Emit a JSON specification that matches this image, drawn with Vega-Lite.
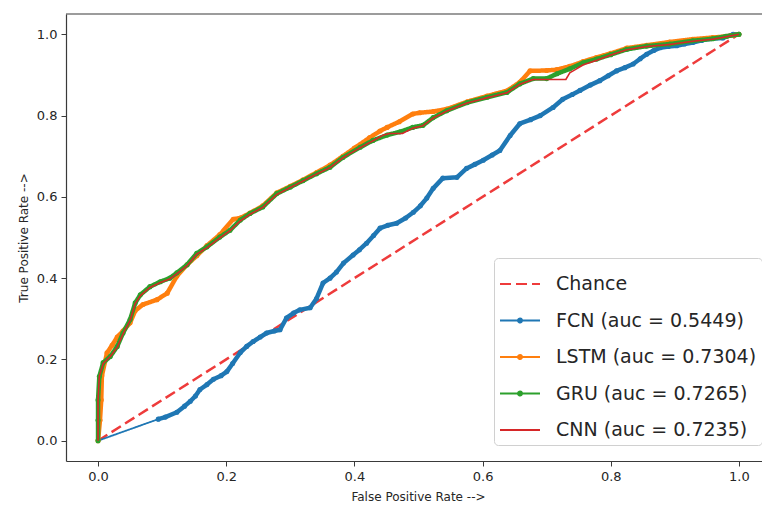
{
  "$schema": "https://vega.github.io/schema/vega-lite/v6.json",
  "width": 696,
  "height": 447,
  "autosize": {"type": "none"},
  "padding": {"left": 66, "top": 14, "right": 0, "bottom": 49},
  "background": "white",
  "config": {
    "view": {"stroke": null},
    "font": "DejaVu Sans",
    "axis": {
      "domainColor": "#3a3a3a", "domainWidth": 1.2,
      "tickColor": "#3a3a3a", "tickSize": 5, "tickWidth": 1,
      "labelFont": "DejaVu Sans", "labelFontSize": 13, "labelColor": "#262626",
      "labelPadding": 4, "labelFlush": false,
      "titleFont": "DejaVu Sans", "titleFontSize": 12, "titleFontWeight": "normal", "titleColor": "#262626",
      "grid": false
    },
    "legend": {
      "orient": "none", "legendX": 428, "legendY": 244,
      "labelFont": "DejaVu Sans", "labelFontSize": 19, "labelColor": "#262626", "labelLimit": 400,
      "symbolSize": 1600, "symbolStrokeWidth": 2, "labelOffset": 15,
      "padding": 5, "rowPadding": 5.5,
      "fillColor": "white", "strokeColor": "#d0d0d0", "cornerRadius": 4
    }
  },
  "layer": [
    {
      "data": {"values": [{"edge": "top"}]},
      "mark": {"type": "rule", "color": "#3a3a3a", "strokeWidth": 1.2},
      "encoding": {"y": {"datum": 1.05, "type": "quantitative", "scale": {"domain": [-0.05, 1.05], "nice": false, "zero": false}}}
    },
    {
      "data": {"values": [
        {"series": "Chance", "fpr": 0, "tpr": 0},
        {"series": "Chance", "fpr": 1, "tpr": 1},

        {"series": "FCN (auc = 0.5449)", "fpr": 0, "tpr": 0},
        {"series": "FCN (auc = 0.5449)", "fpr": 0.094, "tpr": 0.053},
        {"series": "FCN (auc = 0.5449)", "fpr": 0.105, "tpr": 0.058},
        {"series": "FCN (auc = 0.5449)", "fpr": 0.123, "tpr": 0.07},
        {"series": "FCN (auc = 0.5449)", "fpr": 0.135, "tpr": 0.085},
        {"series": "FCN (auc = 0.5449)", "fpr": 0.144, "tpr": 0.097},
        {"series": "FCN (auc = 0.5449)", "fpr": 0.152, "tpr": 0.11},
        {"series": "FCN (auc = 0.5449)", "fpr": 0.159, "tpr": 0.126},
        {"series": "FCN (auc = 0.5449)", "fpr": 0.17, "tpr": 0.138},
        {"series": "FCN (auc = 0.5449)", "fpr": 0.18, "tpr": 0.151},
        {"series": "FCN (auc = 0.5449)", "fpr": 0.192, "tpr": 0.16},
        {"series": "FCN (auc = 0.5449)", "fpr": 0.201, "tpr": 0.17},
        {"series": "FCN (auc = 0.5449)", "fpr": 0.21, "tpr": 0.19},
        {"series": "FCN (auc = 0.5449)", "fpr": 0.222, "tpr": 0.217},
        {"series": "FCN (auc = 0.5449)", "fpr": 0.232, "tpr": 0.232},
        {"series": "FCN (auc = 0.5449)", "fpr": 0.242, "tpr": 0.244},
        {"series": "FCN (auc = 0.5449)", "fpr": 0.253, "tpr": 0.255},
        {"series": "FCN (auc = 0.5449)", "fpr": 0.263, "tpr": 0.265},
        {"series": "FCN (auc = 0.5449)", "fpr": 0.275, "tpr": 0.27},
        {"series": "FCN (auc = 0.5449)", "fpr": 0.284, "tpr": 0.273},
        {"series": "FCN (auc = 0.5449)", "fpr": 0.294, "tpr": 0.302},
        {"series": "FCN (auc = 0.5449)", "fpr": 0.305, "tpr": 0.314},
        {"series": "FCN (auc = 0.5449)", "fpr": 0.315, "tpr": 0.322},
        {"series": "FCN (auc = 0.5449)", "fpr": 0.331, "tpr": 0.327},
        {"series": "FCN (auc = 0.5449)", "fpr": 0.341, "tpr": 0.35},
        {"series": "FCN (auc = 0.5449)", "fpr": 0.351, "tpr": 0.388},
        {"series": "FCN (auc = 0.5449)", "fpr": 0.362, "tpr": 0.4},
        {"series": "FCN (auc = 0.5449)", "fpr": 0.372, "tpr": 0.415},
        {"series": "FCN (auc = 0.5449)", "fpr": 0.383, "tpr": 0.437},
        {"series": "FCN (auc = 0.5449)", "fpr": 0.398, "tpr": 0.457},
        {"series": "FCN (auc = 0.5449)", "fpr": 0.408, "tpr": 0.47},
        {"series": "FCN (auc = 0.5449)", "fpr": 0.419, "tpr": 0.486},
        {"series": "FCN (auc = 0.5449)", "fpr": 0.43, "tpr": 0.505},
        {"series": "FCN (auc = 0.5449)", "fpr": 0.44, "tpr": 0.523},
        {"series": "FCN (auc = 0.5449)", "fpr": 0.452, "tpr": 0.53},
        {"series": "FCN (auc = 0.5449)", "fpr": 0.466, "tpr": 0.535},
        {"series": "FCN (auc = 0.5449)", "fpr": 0.48, "tpr": 0.548},
        {"series": "FCN (auc = 0.5449)", "fpr": 0.492, "tpr": 0.562},
        {"series": "FCN (auc = 0.5449)", "fpr": 0.503, "tpr": 0.578},
        {"series": "FCN (auc = 0.5449)", "fpr": 0.513, "tpr": 0.597},
        {"series": "FCN (auc = 0.5449)", "fpr": 0.523, "tpr": 0.621},
        {"series": "FCN (auc = 0.5449)", "fpr": 0.538, "tpr": 0.646},
        {"series": "FCN (auc = 0.5449)", "fpr": 0.56, "tpr": 0.648},
        {"series": "FCN (auc = 0.5449)", "fpr": 0.575, "tpr": 0.67},
        {"series": "FCN (auc = 0.5449)", "fpr": 0.588, "tpr": 0.68},
        {"series": "FCN (auc = 0.5449)", "fpr": 0.601, "tpr": 0.69},
        {"series": "FCN (auc = 0.5449)", "fpr": 0.615, "tpr": 0.703},
        {"series": "FCN (auc = 0.5449)", "fpr": 0.627, "tpr": 0.714},
        {"series": "FCN (auc = 0.5449)", "fpr": 0.643, "tpr": 0.751},
        {"series": "FCN (auc = 0.5449)", "fpr": 0.658, "tpr": 0.78},
        {"series": "FCN (auc = 0.5449)", "fpr": 0.675, "tpr": 0.79},
        {"series": "FCN (auc = 0.5449)", "fpr": 0.69, "tpr": 0.8},
        {"series": "FCN (auc = 0.5449)", "fpr": 0.71, "tpr": 0.82},
        {"series": "FCN (auc = 0.5449)", "fpr": 0.725, "tpr": 0.84},
        {"series": "FCN (auc = 0.5449)", "fpr": 0.74, "tpr": 0.852},
        {"series": "FCN (auc = 0.5449)", "fpr": 0.752, "tpr": 0.862},
        {"series": "FCN (auc = 0.5449)", "fpr": 0.768, "tpr": 0.875},
        {"series": "FCN (auc = 0.5449)", "fpr": 0.783, "tpr": 0.886},
        {"series": "FCN (auc = 0.5449)", "fpr": 0.796, "tpr": 0.898},
        {"series": "FCN (auc = 0.5449)", "fpr": 0.809, "tpr": 0.91},
        {"series": "FCN (auc = 0.5449)", "fpr": 0.822, "tpr": 0.918},
        {"series": "FCN (auc = 0.5449)", "fpr": 0.835, "tpr": 0.927},
        {"series": "FCN (auc = 0.5449)", "fpr": 0.846, "tpr": 0.94},
        {"series": "FCN (auc = 0.5449)", "fpr": 0.856, "tpr": 0.951},
        {"series": "FCN (auc = 0.5449)", "fpr": 0.867, "tpr": 0.96},
        {"series": "FCN (auc = 0.5449)", "fpr": 0.877, "tpr": 0.967},
        {"series": "FCN (auc = 0.5449)", "fpr": 0.89, "tpr": 0.97},
        {"series": "FCN (auc = 0.5449)", "fpr": 0.903, "tpr": 0.972},
        {"series": "FCN (auc = 0.5449)", "fpr": 0.915, "tpr": 0.976},
        {"series": "FCN (auc = 0.5449)", "fpr": 0.928, "tpr": 0.98},
        {"series": "FCN (auc = 0.5449)", "fpr": 0.942, "tpr": 0.985},
        {"series": "FCN (auc = 0.5449)", "fpr": 0.955, "tpr": 0.989},
        {"series": "FCN (auc = 0.5449)", "fpr": 0.975, "tpr": 0.991},
        {"series": "FCN (auc = 0.5449)", "fpr": 0.991, "tpr": 1.0},
        {"series": "FCN (auc = 0.5449)", "fpr": 1.0, "tpr": 1.0},

        {"series": "LSTM (auc = 0.7304)", "fpr": 0, "tpr": 0},
        {"series": "LSTM (auc = 0.7304)", "fpr": 0.003, "tpr": 0.05},
        {"series": "LSTM (auc = 0.7304)", "fpr": 0.005, "tpr": 0.1},
        {"series": "LSTM (auc = 0.7304)", "fpr": 0.006, "tpr": 0.16},
        {"series": "LSTM (auc = 0.7304)", "fpr": 0.014, "tpr": 0.216},
        {"series": "LSTM (auc = 0.7304)", "fpr": 0.022, "tpr": 0.235},
        {"series": "LSTM (auc = 0.7304)", "fpr": 0.03, "tpr": 0.255},
        {"series": "LSTM (auc = 0.7304)", "fpr": 0.039, "tpr": 0.27},
        {"series": "LSTM (auc = 0.7304)", "fpr": 0.05, "tpr": 0.29},
        {"series": "LSTM (auc = 0.7304)", "fpr": 0.058, "tpr": 0.32},
        {"series": "LSTM (auc = 0.7304)", "fpr": 0.07, "tpr": 0.335},
        {"series": "LSTM (auc = 0.7304)", "fpr": 0.092, "tpr": 0.347},
        {"series": "LSTM (auc = 0.7304)", "fpr": 0.108, "tpr": 0.363},
        {"series": "LSTM (auc = 0.7304)", "fpr": 0.123, "tpr": 0.405},
        {"series": "LSTM (auc = 0.7304)", "fpr": 0.139, "tpr": 0.433},
        {"series": "LSTM (auc = 0.7304)", "fpr": 0.154, "tpr": 0.455},
        {"series": "LSTM (auc = 0.7304)", "fpr": 0.17, "tpr": 0.48},
        {"series": "LSTM (auc = 0.7304)", "fpr": 0.19, "tpr": 0.507},
        {"series": "LSTM (auc = 0.7304)", "fpr": 0.211, "tpr": 0.545},
        {"series": "LSTM (auc = 0.7304)", "fpr": 0.222, "tpr": 0.548},
        {"series": "LSTM (auc = 0.7304)", "fpr": 0.237, "tpr": 0.56},
        {"series": "LSTM (auc = 0.7304)", "fpr": 0.257, "tpr": 0.578},
        {"series": "LSTM (auc = 0.7304)", "fpr": 0.279, "tpr": 0.61},
        {"series": "LSTM (auc = 0.7304)", "fpr": 0.3, "tpr": 0.626},
        {"series": "LSTM (auc = 0.7304)", "fpr": 0.32, "tpr": 0.642},
        {"series": "LSTM (auc = 0.7304)", "fpr": 0.341, "tpr": 0.66},
        {"series": "LSTM (auc = 0.7304)", "fpr": 0.362, "tpr": 0.678},
        {"series": "LSTM (auc = 0.7304)", "fpr": 0.382, "tpr": 0.7},
        {"series": "LSTM (auc = 0.7304)", "fpr": 0.4, "tpr": 0.72},
        {"series": "LSTM (auc = 0.7304)", "fpr": 0.424, "tpr": 0.746},
        {"series": "LSTM (auc = 0.7304)", "fpr": 0.44, "tpr": 0.762},
        {"series": "LSTM (auc = 0.7304)", "fpr": 0.451, "tpr": 0.771},
        {"series": "LSTM (auc = 0.7304)", "fpr": 0.47, "tpr": 0.785},
        {"series": "LSTM (auc = 0.7304)", "fpr": 0.491, "tpr": 0.804},
        {"series": "LSTM (auc = 0.7304)", "fpr": 0.502, "tpr": 0.807},
        {"series": "LSTM (auc = 0.7304)", "fpr": 0.523, "tpr": 0.81},
        {"series": "LSTM (auc = 0.7304)", "fpr": 0.544, "tpr": 0.816},
        {"series": "LSTM (auc = 0.7304)", "fpr": 0.576, "tpr": 0.834},
        {"series": "LSTM (auc = 0.7304)", "fpr": 0.607, "tpr": 0.848},
        {"series": "LSTM (auc = 0.7304)", "fpr": 0.638, "tpr": 0.861},
        {"series": "LSTM (auc = 0.7304)", "fpr": 0.658, "tpr": 0.882},
        {"series": "LSTM (auc = 0.7304)", "fpr": 0.674, "tpr": 0.91},
        {"series": "LSTM (auc = 0.7304)", "fpr": 0.7, "tpr": 0.911},
        {"series": "LSTM (auc = 0.7304)", "fpr": 0.716, "tpr": 0.913},
        {"series": "LSTM (auc = 0.7304)", "fpr": 0.736, "tpr": 0.921},
        {"series": "LSTM (auc = 0.7304)", "fpr": 0.757, "tpr": 0.933},
        {"series": "LSTM (auc = 0.7304)", "fpr": 0.778, "tpr": 0.943},
        {"series": "LSTM (auc = 0.7304)", "fpr": 0.8, "tpr": 0.953},
        {"series": "LSTM (auc = 0.7304)", "fpr": 0.825, "tpr": 0.966},
        {"series": "LSTM (auc = 0.7304)", "fpr": 0.856, "tpr": 0.973},
        {"series": "LSTM (auc = 0.7304)", "fpr": 0.892, "tpr": 0.981},
        {"series": "LSTM (auc = 0.7304)", "fpr": 0.928, "tpr": 0.988},
        {"series": "LSTM (auc = 0.7304)", "fpr": 0.959, "tpr": 0.992},
        {"series": "LSTM (auc = 0.7304)", "fpr": 0.98, "tpr": 0.995},
        {"series": "LSTM (auc = 0.7304)", "fpr": 1.0, "tpr": 1.0},

        {"series": "GRU (auc = 0.7265)", "fpr": 0, "tpr": 0},
        {"series": "GRU (auc = 0.7265)", "fpr": 0, "tpr": 0.05},
        {"series": "GRU (auc = 0.7265)", "fpr": 0, "tpr": 0.1},
        {"series": "GRU (auc = 0.7265)", "fpr": 0.002, "tpr": 0.158},
        {"series": "GRU (auc = 0.7265)", "fpr": 0.008, "tpr": 0.192},
        {"series": "GRU (auc = 0.7265)", "fpr": 0.019, "tpr": 0.207},
        {"series": "GRU (auc = 0.7265)", "fpr": 0.03, "tpr": 0.232},
        {"series": "GRU (auc = 0.7265)", "fpr": 0.039, "tpr": 0.265},
        {"series": "GRU (auc = 0.7265)", "fpr": 0.05, "tpr": 0.298},
        {"series": "GRU (auc = 0.7265)", "fpr": 0.058, "tpr": 0.339},
        {"series": "GRU (auc = 0.7265)", "fpr": 0.066, "tpr": 0.359},
        {"series": "GRU (auc = 0.7265)", "fpr": 0.081, "tpr": 0.379},
        {"series": "GRU (auc = 0.7265)", "fpr": 0.097, "tpr": 0.391},
        {"series": "GRU (auc = 0.7265)", "fpr": 0.112, "tpr": 0.4},
        {"series": "GRU (auc = 0.7265)", "fpr": 0.123, "tpr": 0.413},
        {"series": "GRU (auc = 0.7265)", "fpr": 0.139, "tpr": 0.433},
        {"series": "GRU (auc = 0.7265)", "fpr": 0.154, "tpr": 0.461},
        {"series": "GRU (auc = 0.7265)", "fpr": 0.17, "tpr": 0.477},
        {"series": "GRU (auc = 0.7265)", "fpr": 0.19, "tpr": 0.501},
        {"series": "GRU (auc = 0.7265)", "fpr": 0.206, "tpr": 0.518},
        {"series": "GRU (auc = 0.7265)", "fpr": 0.222, "tpr": 0.543},
        {"series": "GRU (auc = 0.7265)", "fpr": 0.237, "tpr": 0.559},
        {"series": "GRU (auc = 0.7265)", "fpr": 0.257, "tpr": 0.575},
        {"series": "GRU (auc = 0.7265)", "fpr": 0.279, "tpr": 0.608},
        {"series": "GRU (auc = 0.7265)", "fpr": 0.3, "tpr": 0.624},
        {"series": "GRU (auc = 0.7265)", "fpr": 0.32, "tpr": 0.64},
        {"series": "GRU (auc = 0.7265)", "fpr": 0.341, "tpr": 0.657},
        {"series": "GRU (auc = 0.7265)", "fpr": 0.362, "tpr": 0.673},
        {"series": "GRU (auc = 0.7265)", "fpr": 0.382, "tpr": 0.697},
        {"series": "GRU (auc = 0.7265)", "fpr": 0.409, "tpr": 0.722},
        {"series": "GRU (auc = 0.7265)", "fpr": 0.429, "tpr": 0.739},
        {"series": "GRU (auc = 0.7265)", "fpr": 0.451, "tpr": 0.752},
        {"series": "GRU (auc = 0.7265)", "fpr": 0.471, "tpr": 0.76},
        {"series": "GRU (auc = 0.7265)", "fpr": 0.491, "tpr": 0.771},
        {"series": "GRU (auc = 0.7265)", "fpr": 0.507, "tpr": 0.776},
        {"series": "GRU (auc = 0.7265)", "fpr": 0.523, "tpr": 0.795},
        {"series": "GRU (auc = 0.7265)", "fpr": 0.544, "tpr": 0.812},
        {"series": "GRU (auc = 0.7265)", "fpr": 0.576, "tpr": 0.832},
        {"series": "GRU (auc = 0.7265)", "fpr": 0.607, "tpr": 0.845},
        {"series": "GRU (auc = 0.7265)", "fpr": 0.638, "tpr": 0.857},
        {"series": "GRU (auc = 0.7265)", "fpr": 0.658, "tpr": 0.878},
        {"series": "GRU (auc = 0.7265)", "fpr": 0.679, "tpr": 0.891},
        {"series": "GRU (auc = 0.7265)", "fpr": 0.7, "tpr": 0.891},
        {"series": "GRU (auc = 0.7265)", "fpr": 0.716, "tpr": 0.903},
        {"series": "GRU (auc = 0.7265)", "fpr": 0.736, "tpr": 0.915},
        {"series": "GRU (auc = 0.7265)", "fpr": 0.757, "tpr": 0.93},
        {"series": "GRU (auc = 0.7265)", "fpr": 0.778, "tpr": 0.939},
        {"series": "GRU (auc = 0.7265)", "fpr": 0.8, "tpr": 0.95},
        {"series": "GRU (auc = 0.7265)", "fpr": 0.825, "tpr": 0.963},
        {"series": "GRU (auc = 0.7265)", "fpr": 0.856, "tpr": 0.971},
        {"series": "GRU (auc = 0.7265)", "fpr": 0.892, "tpr": 0.976},
        {"series": "GRU (auc = 0.7265)", "fpr": 0.928, "tpr": 0.984},
        {"series": "GRU (auc = 0.7265)", "fpr": 0.959, "tpr": 0.989},
        {"series": "GRU (auc = 0.7265)", "fpr": 0.98, "tpr": 0.995},
        {"series": "GRU (auc = 0.7265)", "fpr": 1.0, "tpr": 1.0},

        {"series": "CNN (auc = 0.7235)", "fpr": 0, "tpr": 0},
        {"series": "CNN (auc = 0.7235)", "fpr": 0, "tpr": 0.05},
        {"series": "CNN (auc = 0.7235)", "fpr": 0, "tpr": 0.1},
        {"series": "CNN (auc = 0.7235)", "fpr": 0.002, "tpr": 0.158},
        {"series": "CNN (auc = 0.7235)", "fpr": 0.008, "tpr": 0.19},
        {"series": "CNN (auc = 0.7235)", "fpr": 0.019, "tpr": 0.207},
        {"series": "CNN (auc = 0.7235)", "fpr": 0.03, "tpr": 0.23},
        {"series": "CNN (auc = 0.7235)", "fpr": 0.039, "tpr": 0.263},
        {"series": "CNN (auc = 0.7235)", "fpr": 0.05, "tpr": 0.296},
        {"series": "CNN (auc = 0.7235)", "fpr": 0.058, "tpr": 0.337},
        {"series": "CNN (auc = 0.7235)", "fpr": 0.066, "tpr": 0.357},
        {"series": "CNN (auc = 0.7235)", "fpr": 0.081, "tpr": 0.377},
        {"series": "CNN (auc = 0.7235)", "fpr": 0.097, "tpr": 0.389},
        {"series": "CNN (auc = 0.7235)", "fpr": 0.112, "tpr": 0.398},
        {"series": "CNN (auc = 0.7235)", "fpr": 0.123, "tpr": 0.411},
        {"series": "CNN (auc = 0.7235)", "fpr": 0.139, "tpr": 0.431},
        {"series": "CNN (auc = 0.7235)", "fpr": 0.154, "tpr": 0.459},
        {"series": "CNN (auc = 0.7235)", "fpr": 0.17, "tpr": 0.475},
        {"series": "CNN (auc = 0.7235)", "fpr": 0.19, "tpr": 0.499},
        {"series": "CNN (auc = 0.7235)", "fpr": 0.206, "tpr": 0.517},
        {"series": "CNN (auc = 0.7235)", "fpr": 0.222, "tpr": 0.541},
        {"series": "CNN (auc = 0.7235)", "fpr": 0.237, "tpr": 0.557},
        {"series": "CNN (auc = 0.7235)", "fpr": 0.257, "tpr": 0.574},
        {"series": "CNN (auc = 0.7235)", "fpr": 0.279, "tpr": 0.606},
        {"series": "CNN (auc = 0.7235)", "fpr": 0.3, "tpr": 0.623},
        {"series": "CNN (auc = 0.7235)", "fpr": 0.32, "tpr": 0.639},
        {"series": "CNN (auc = 0.7235)", "fpr": 0.341, "tpr": 0.656},
        {"series": "CNN (auc = 0.7235)", "fpr": 0.362, "tpr": 0.672},
        {"series": "CNN (auc = 0.7235)", "fpr": 0.382, "tpr": 0.696},
        {"series": "CNN (auc = 0.7235)", "fpr": 0.409, "tpr": 0.721},
        {"series": "CNN (auc = 0.7235)", "fpr": 0.429, "tpr": 0.738},
        {"series": "CNN (auc = 0.7235)", "fpr": 0.445, "tpr": 0.752},
        {"series": "CNN (auc = 0.7235)", "fpr": 0.455, "tpr": 0.756},
        {"series": "CNN (auc = 0.7235)", "fpr": 0.475, "tpr": 0.756},
        {"series": "CNN (auc = 0.7235)", "fpr": 0.491, "tpr": 0.769},
        {"series": "CNN (auc = 0.7235)", "fpr": 0.507, "tpr": 0.775},
        {"series": "CNN (auc = 0.7235)", "fpr": 0.523, "tpr": 0.794},
        {"series": "CNN (auc = 0.7235)", "fpr": 0.544, "tpr": 0.811},
        {"series": "CNN (auc = 0.7235)", "fpr": 0.576, "tpr": 0.831},
        {"series": "CNN (auc = 0.7235)", "fpr": 0.607, "tpr": 0.844},
        {"series": "CNN (auc = 0.7235)", "fpr": 0.638, "tpr": 0.856},
        {"series": "CNN (auc = 0.7235)", "fpr": 0.658, "tpr": 0.877},
        {"series": "CNN (auc = 0.7235)", "fpr": 0.679, "tpr": 0.889},
        {"series": "CNN (auc = 0.7235)", "fpr": 0.69, "tpr": 0.889},
        {"series": "CNN (auc = 0.7235)", "fpr": 0.73, "tpr": 0.889},
        {"series": "CNN (auc = 0.7235)", "fpr": 0.736, "tpr": 0.905},
        {"series": "CNN (auc = 0.7235)", "fpr": 0.757, "tpr": 0.925},
        {"series": "CNN (auc = 0.7235)", "fpr": 0.778, "tpr": 0.936},
        {"series": "CNN (auc = 0.7235)", "fpr": 0.8, "tpr": 0.949},
        {"series": "CNN (auc = 0.7235)", "fpr": 0.825, "tpr": 0.962},
        {"series": "CNN (auc = 0.7235)", "fpr": 0.856, "tpr": 0.97},
        {"series": "CNN (auc = 0.7235)", "fpr": 0.892, "tpr": 0.975},
        {"series": "CNN (auc = 0.7235)", "fpr": 0.928, "tpr": 0.983},
        {"series": "CNN (auc = 0.7235)", "fpr": 0.959, "tpr": 0.988},
        {"series": "CNN (auc = 0.7235)", "fpr": 0.98, "tpr": 0.994},
        {"series": "CNN (auc = 0.7235)", "fpr": 1.0, "tpr": 1.0}
      ]},
      "encoding": {
        "x": {
          "field": "fpr", "type": "quantitative",
          "scale": {"domain": [-0.05, 1.036], "nice": false, "zero": false},
          "axis": {"values": [0, 0.2, 0.4, 0.6, 0.8, 1.0], "format": ".1f", "title": "False Positive Rate -->", "titleX": 352, "titlePadding": 8}
        },
        "y": {
          "field": "tpr", "type": "quantitative",
          "scale": {"domain": [-0.05, 1.05], "nice": false, "zero": false},
          "axis": {"values": [0, 0.2, 0.4, 0.6, 0.8, 1.0], "format": ".1f", "title": "True Positive Rate -->", "titlePadding": 6}
        },
        "order": {"value": null}
      },
      "layer": [
        {
          "transform": [{"filter": "datum.series === 'Chance'"}],
          "mark": {"type": "line", "strokeWidth": 2.5},
          "encoding": {
            "color": {"field": "series", "type": "nominal", "title": null,
              "scale": {"domain": ["Chance", "FCN (auc = 0.5449)", "LSTM (auc = 0.7304)", "GRU (auc = 0.7265)", "CNN (auc = 0.7235)"],
                        "range": ["#ee3b3b", "#1f77b4", "#ff7f0e", "#2ca02c", "#d62728"]},
              "legend": {"encode": {"symbols": {"update": {"shape": {"signal": "datum.value === 'Chance' || datum.value === 'CNN (auc = 0.7235)' ? 'M-1,0H1' : 'M-1,0H1M-0.1,0A0.1,0.1,0,1,1,0.1,0A0.1,0.1,0,1,1,-0.1,0'"}, "strokeWidth": {"value": 2}}}}}
            },
            "strokeDash": {"field": "series", "type": "nominal", "title": null,
              "scale": {"domain": ["Chance", "FCN (auc = 0.5449)", "LSTM (auc = 0.7304)", "GRU (auc = 0.7265)", "CNN (auc = 0.7235)"],
                        "range": [[11, 5], [1, 0], [1, 0], [1, 0], [1, 0]]}}
          }
        },
        {
          "transform": [{"filter": "datum.series === 'FCN (auc = 0.5449)'"}],
          "mark": {"type": "line", "strokeWidth": 1.8},
          "encoding": {
            "color": {"field": "series", "type": "nominal", "title": null},
            "strokeDash": {"field": "series", "type": "nominal", "title": null}
          }
        },
        {
          "transform": [{"filter": "datum.series === 'FCN (auc = 0.5449)' && datum.fpr > 0.09"}],
          "mark": {"type": "line", "strokeWidth": 4.5, "strokeJoin": "round", "strokeCap": "round", "color": "#1f77b4"},
          "encoding": {}
        },
        {
          "transform": [{"filter": "datum.series === 'FCN (auc = 0.5449)' && datum.fpr > 0"}],
          "mark": {"type": "circle", "size": 26, "color": "#1f77b4", "opacity": 1},
          "encoding": {}
        },
        {
          "transform": [{"filter": "datum.series === 'LSTM (auc = 0.7304)'"}],
          "mark": {"type": "line", "strokeWidth": 4.5, "strokeJoin": "round", "strokeCap": "round"},
          "encoding": {
            "color": {"field": "series", "type": "nominal", "title": null},
            "strokeDash": {"field": "series", "type": "nominal", "title": null}
          }
        },
        {
          "transform": [{"filter": "datum.series === 'LSTM (auc = 0.7304)'"}],
          "mark": {"type": "circle", "size": 26, "color": "#ff7f0e", "opacity": 1},
          "encoding": {}
        },
        {
          "transform": [{"filter": "datum.series === 'GRU (auc = 0.7265)'"}],
          "mark": {"type": "line", "strokeWidth": 4.5, "strokeJoin": "round", "strokeCap": "round"},
          "encoding": {
            "color": {"field": "series", "type": "nominal", "title": null},
            "strokeDash": {"field": "series", "type": "nominal", "title": null}
          }
        },
        {
          "transform": [{"filter": "datum.series === 'GRU (auc = 0.7265)'"}],
          "mark": {"type": "circle", "size": 26, "color": "#2ca02c", "opacity": 1},
          "encoding": {}
        },
        {
          "transform": [{"filter": "datum.series === 'CNN (auc = 0.7235)'"}],
          "mark": {"type": "line", "strokeWidth": 1.6},
          "encoding": {
            "color": {"field": "series", "type": "nominal", "title": null},
            "strokeDash": {"field": "series", "type": "nominal", "title": null}
          }
        }
      ]
    }
  ]
}
